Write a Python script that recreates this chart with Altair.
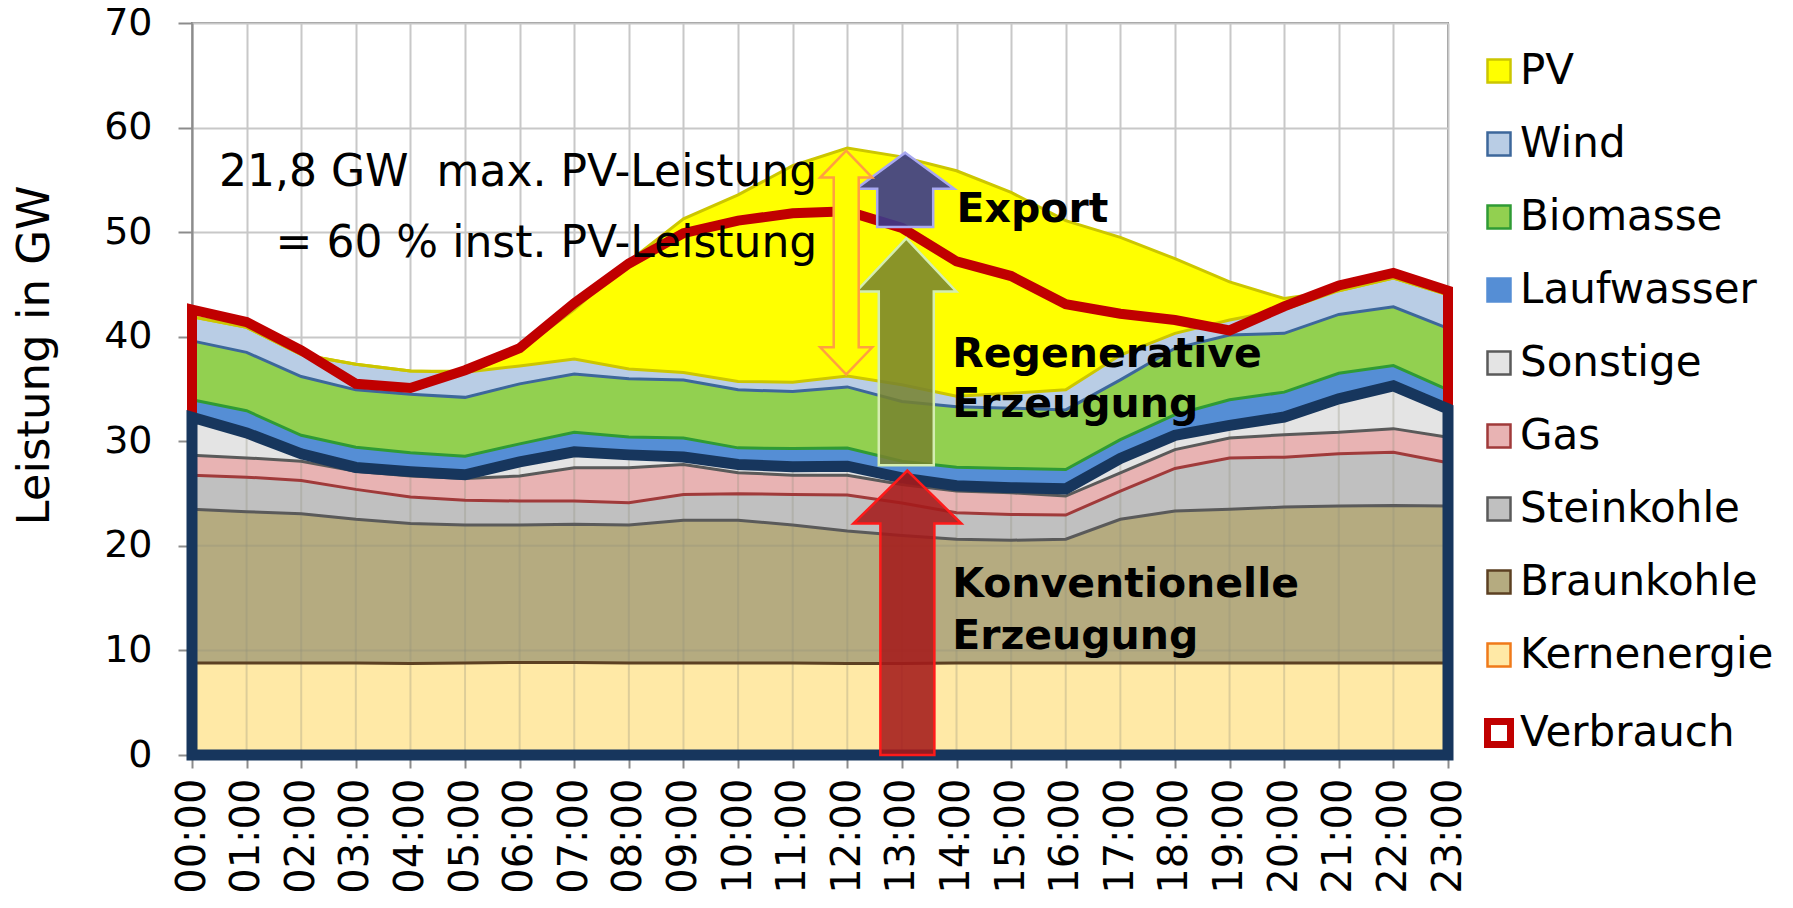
import altair as alt
import pandas as pd

FONT = "DejaVu Sans"

# ---------------- data ----------------
hours = list(range(24))
y_ticks = [0, 10, 20, 30, 40, 50, 60, 70]

kernenergie = [8.8, 8.8, 8.8, 8.8, 8.75, 8.8, 8.85, 8.85, 8.8, 8.8, 8.8, 8.8,
               8.75, 8.75, 8.8, 8.8, 8.8, 8.8, 8.8, 8.8, 8.8, 8.8, 8.8, 8.8]
braunkohle = [14.7, 14.47, 14.28, 13.74, 13.38, 13.2, 13.15, 13.21, 13.2, 13.64, 13.64, 13.2,
              12.68, 12.25, 11.83, 11.74, 11.83, 13.74, 14.53, 14.7, 14.91, 15.01, 15.07, 15.01]
steinkohle = [3.26, 3.3, 3.17, 2.86, 2.54, 2.35, 2.29, 2.23, 2.13, 2.48, 2.54, 2.92,
              3.43, 3.1, 2.54, 2.46, 2.32, 2.7, 4.07, 4.91, 4.77, 4.99, 5.08, 4.13]
gas = [1.91, 1.84, 1.85, 1.74, 2.0, 2.09, 2.38, 3.17, 3.33, 2.86, 2.02, 1.84,
       1.9, 1.77, 2.07, 2.08, 1.81, 1.74, 1.8, 1.91, 2.15, 2.06, 2.26, 2.44]
sonstige = [3.63, 2.39, 0.7, 0.36, 0.43, 0.36, 1.36, 1.54, 1.24, 0.72, 0.78, 0.8,
            0.86, 0.63, 0.51, 0.48, 0.69, 1.37, 1.37, 1.2, 1.69, 3.2, 4.09, 2.72]
laufwasser = [1.67, 2.12, 1.77, 1.93, 1.8, 1.77, 1.72, 1.86, 1.71, 1.82, 1.59, 1.74,
              1.73, 1.6, 1.77, 1.84, 1.85, 1.81, 1.97, 2.45, 2.38, 2.44, 1.94, 1.82]
biomasse = [5.63, 5.58, 5.62, 5.49, 5.6, 5.63, 5.74, 5.58, 5.56, 5.55, 5.55, 5.46,
            5.85, 5.7, 5.78, 5.77, 5.7, 5.71, 6.35, 6.19, 5.62, 5.63, 5.62, 5.87]
wind = [2.3, 2.4, 2.11, 2.45, 2.23, 2.4, 1.71, 1.43, 0.95, 0.7, 0.79, 0.89,
        1.05, 1.6, 1.0, 1.43, 1.92, 2.38, 1.43, 1.43, 2.28, 2.27, 2.74, 3.21]
pv = [0, 0, 0, 0, 0, 0.1, 1.5, 4.73, 10.28, 14.7, 17.85, 20.7,
      21.8, 21.8, 21.57, 19.2, 16.18, 11.25, 7.14, 3.65, 1.05, 0, 0, 0]
verbrauch = [42.6, 41.4, 38.7, 35.5, 35.1, 36.8, 38.9, 43.2, 47.0, 49.9, 51.1, 51.8,
             52.0, 50.4, 47.2, 45.8, 43.1, 42.2, 41.6, 40.6, 42.9, 44.9, 46.1, 44.4]

stack_order = ["Kernenergie", "Braunkohle", "Steinkohle", "Gas", "Sonstige",
               "Laufwasser", "Biomasse", "Wind", "PV"]
series_values = {"Kernenergie": kernenergie, "Braunkohle": braunkohle,
                 "Steinkohle": steinkohle, "Gas": gas, "Sonstige": sonstige,
                 "Laufwasser": laufwasser, "Biomasse": biomasse, "Wind": wind, "PV": pv}

legend_order = ["PV", "Wind", "Biomasse", "Laufwasser", "Sonstige", "Gas",
                "Steinkohle", "Braunkohle", "Kernenergie", "Verbrauch"]
fill_colors = ["#FFFF00", "#B9CDE5", "#92D050", "#558ED5", "#E4E4E4", "#E8B3B3",
               "#C0C0C0", "#B5AB80", "#FFE9A6", "#FFFFFF"]
stroke_colors = ["#CCC600", "#3D679B", "#2F9B34", "#558ED5", "#5A5A5A", "#A03A3A",
                 "#5A5A5A", "#5C4022", "#F07A1A", "#C00000"]
# series whose lower edge carries their border line
edge_series = ["Braunkohle", "Steinkohle", "Gas", "Sonstige", "Biomasse", "Wind", "PV"]

# annotation arrows (hour position, from GW, to GW)
arrow_hour = [13.1, 13.08, 13.06, 11.98]
arrow_from = [0.0, 27.7, 50.5, 36.4]
arrow_to = [27.2, 49.4, 57.6, 57.8]

# annotation texts
note_text = ["21,8 GW\u00a0\u00a0max. PV-Leistung", "= 60 % inst. PV-Leistung"]
note_hour = [11.45, 11.45]
note_gw = [54.4, 47.6]
label_text = ["Export", "Regenerative", "Erzeugung", "Konventionelle", "Erzeugung"]
label_hour = [14.0, 13.92, 13.92, 13.92, 13.92]
label_gw = [51.0, 37.1, 32.3, 15.1, 10.1]

# ---------------- tables ----------------
rows = []
for i, h in enumerate(hours):
    lo = 0.0
    for s in stack_order:
        hi = lo + series_values[s][i]
        rows.append({"hour": h, "series": s, "lo": lo, "hi": hi})
        lo = hi
df = pd.DataFrame(rows)

line_rows = []
for r in rows:
    if r["series"] in edge_series:
        line_rows.append({"hour": r["hour"], "series": r["series"], "val": r["lo"], "key": r["series"] + "_lo"})
    if r["series"] == "PV":
        line_rows.append({"hour": r["hour"], "series": "PV", "val": r["hi"], "key": "PV_hi"})
df_lines = pd.DataFrame(line_rows)

conv_top = df[df.series == "Sonstige"][["hour", "hi"]].rename(columns={"hi": "conv"})
conv_top["zero"] = 0.0
df_verb = pd.DataFrame({"hour": hours, "verbrauch": verbrauch, "zero": 0.0})
df_hgrid = pd.DataFrame({"g": [t for t in y_ticks if 0 < t <= 20], "x0": hours[0], "x1": hours[-1]})

# ---------------- scales / axes ----------------
W, H = 1256, 732
PX_PER_GW = H / 70.0
AX = "#8C8C8C"
GRID = "#C8C8C8"

xscale = alt.Scale(domain=[hours[0], hours[-1]], nice=False, zero=False)
yscale = alt.Scale(domain=[y_ticks[0], y_ticks[-1]], nice=False)

xaxis = alt.Axis(values=hours, labelExpr="(datum.value < 10 ? '0' : '') + datum.value + ':00'",
                 labelAngle=270, labelFont=FONT, labelFontSize=40, labelColor="black",
                 labelPadding=10, labelFlush=False, labelOverlap=False, labelBound=False,
                 tickSize=13, tickWidth=2, tickColor=AX, domainColor=AX, domainWidth=2,
                 grid=True, gridColor=GRID, gridWidth=2, title=None)
yaxis = alt.Axis(values=y_ticks, labelFont=FONT, labelFontSize=38, labelColor="black",
                 labelPadding=26, tickSize=14, tickWidth=2, tickColor=AX,
                 domainColor=AX, domainWidth=2, grid=True, gridColor=GRID, gridWidth=2,
                 title="Leistung in GW", titleFont=FONT, titleFontSize=45,
                 titleFontWeight="normal", titleColor="black", titleAngle=270,
                 titleX=-158, titleY=332, titleAlign="center", titleBaseline="middle")


def X(f):
    return alt.X(f, type="quantitative", scale=xscale, axis=xaxis)


def Y(f):
    return alt.Y(f, type="quantitative", scale=yscale, axis=yaxis)


legend = alt.Legend(title=None, orient="none", legendX=1286, legendY=27, padding=0,
                    symbolType="square", symbolSize=529,
                    symbolStrokeWidth=alt.ExprRef(expr="datum.value === 'Verbrauch' ? 7 : 2.5"),
                    labelFont=FONT, labelFontSize=42, labelColor="black", labelLimit=500,
                    labelOffset=0, rowPadding=31)
fill_scale = alt.Scale(domain=legend_order, range=fill_colors)
stroke_scale = alt.Scale(domain=legend_order, range=stroke_colors)

areas = alt.Chart(df).mark_area(strokeWidth=0, opacity=1).encode(
    x=X("hour"), y=Y("hi"), y2="lo:Q",
    fill=alt.Fill("series:N", scale=fill_scale, legend=legend),
    stroke=alt.Stroke("series:N", scale=stroke_scale, legend=legend),
)

# faint grid showing through the patterned (conventional) areas
vgrid = alt.Chart(conv_top).mark_rule(color="#8E8E7A", opacity=0.3, strokeWidth=2).encode(
    x=X("hour"), y=Y("zero"), y2="conv:Q")
hgrid = alt.Chart(df_hgrid).mark_rule(color="#8E8E7A", opacity=0.3, strokeWidth=2).encode(
    y=Y("g"), x=X("x0"), x2="x1:Q")

edges = alt.Chart(df_lines).mark_line(strokeWidth=3).encode(
    x=X("hour"), y=Y("val"),
    stroke=alt.Stroke("series:N", scale=stroke_scale, legend=legend),
    detail="key:N",
)

verb_outline = alt.Chart(df_verb).mark_area(fillOpacity=0, stroke="#C00000", strokeWidth=10).encode(
    x=X("hour"), y=Y("verbrauch"), y2="zero:Q")
conv_outline = alt.Chart(conv_top).mark_area(fillOpacity=0, stroke="#17365D", strokeWidth=11).encode(
    x=X("hour"), y=Y("conv"), y2="zero:Q")

# arrow styles: shaft width, head width, head length (px), fill, stroke, fill opacity, double-headed
arrow_styles = [
    (54, 108, 53, "#A41A1A", "#FF1A1A", 0.88, False),
    (55, 100, 53, "#77822E", "#D4EDB0", 0.86, False),
    (56, 98, 36, "#3A3A8C", "#A8A8F0", 0.9, False),
    (25, 52, 27, "#FFFF00", "#FFA040", 1.0, True),
]


def arrow_path(h_px, shaft, head_w, head_h, double):
    r = h_px / 2.0
    sw, hw, hh = shaft / 2.0 / r, head_w / 2.0 / r, head_h / r
    a = -1 + hh
    if double:
        b = 1 - hh
        pts = [(0, -1), (hw, a), (sw, a), (sw, b), (hw, b), (0, 1),
               (-hw, b), (-sw, b), (-sw, a), (-hw, a)]
    else:
        pts = [(0, -1), (hw, a), (sw, a), (sw, 1), (-sw, 1), (-sw, a), (-hw, a)]
    return "M" + " L".join(f"{x:.4f},{y:.4f}" for x, y in pts) + " Z"


arrows = []
for hx, y0, y1, st in zip(arrow_hour, arrow_from, arrow_to, arrow_styles):
    shaft, head_w, head_h, fill, stroke, fop, dbl = st
    h_px = (y1 - y0) * PX_PER_GW
    d = pd.DataFrame({"hour": [hx], "mid": [(y0 + y1) / 2.0]})
    arrows.append(alt.Chart(d).mark_point(
        shape=arrow_path(h_px, shaft, head_w, head_h, dbl), size=h_px * h_px,
        filled=True, fill=fill, stroke=stroke, strokeWidth=2.5, fillOpacity=fop, opacity=1,
    ).encode(x=X("hour"), y=Y("mid")))

notes = alt.Chart(pd.DataFrame({"hour": note_hour, "gw": note_gw, "text": note_text})).mark_text(
    align="right", baseline="alphabetic", font=FONT, fontSize=44, color="black"
).encode(x=X("hour"), y=Y("gw"), text="text:N")

labels = alt.Chart(pd.DataFrame({"hour": label_hour, "gw": label_gw, "text": label_text})).mark_text(
    align="left", baseline="alphabetic", font=FONT, fontSize=41, fontWeight="bold", color="black"
).encode(x=X("hour"), y=Y("gw"), text="text:N")

chart = alt.layer(
    areas, vgrid, hgrid, edges, verb_outline, conv_outline, *arrows, notes, labels
).properties(
    width=W, height=H,
    padding={"left": 184, "top": 15, "right": 330, "bottom": 141},
    autosize=alt.AutoSizeParams(type="none"),
).configure(font=FONT).configure_view(stroke=AX, strokeWidth=2)

chart.save("out.html", embed_options={"renderer": "svg", "actions": False})
